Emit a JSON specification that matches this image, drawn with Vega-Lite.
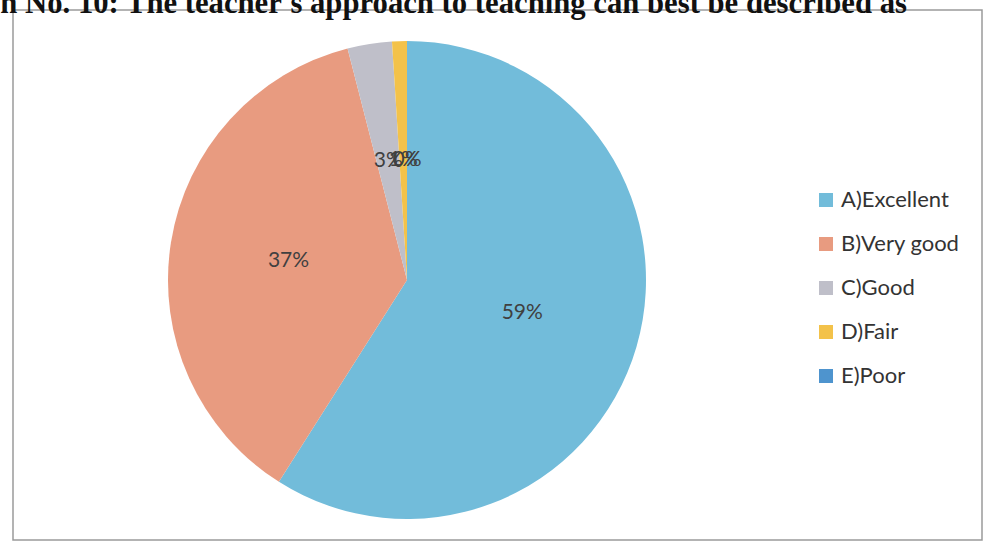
{
  "$schema": "https://vega.github.io/schema/vega-lite/v6.json",
  "autosize": {"type": "none"},
  "width": 969,
  "height": 530,
  "padding": {"left": 13, "top": 10, "right": 1, "bottom": 9},
  "background": "white",
  "config": {
    "view": {"stroke": null},
    "font": "Lato"
  },
  "title": {
    "text": "Question No. 10: The teacher's approach to teaching can best be described as",
    "font": "Liberation Serif",
    "fontSize": 30.7,
    "fontWeight": "bold",
    "color": "#111111",
    "anchor": "end",
    "frame": "group",
    "baseline": "alphabetic",
    "offset": 0,
    "dx": -75,
    "dy": 34
  },
  "layer": [
    {
      "data": {"values": [{"box": 1}]},
      "mark": {"type": "rect", "fill": null, "stroke": "#9a9a9a", "strokeWidth": 1.5},
      "encoding": {
        "x": {"value": 0},
        "x2": {"value": "width"},
        "y": {"value": 0},
        "y2": {"value": "height"}
      }
    },
    {
      "data": {"name": "slices"},
      "layer": [
        {
          "mark": {"type": "arc", "outerRadius": 239, "x": 394, "y": 270, "stroke": null},
          "encoding": {
            "theta": {"field": "share", "type": "quantitative", "stack": true},
            "order": {"field": "category", "sort": "ascending"},
            "color": {
              "field": "category",
              "type": "nominal",
              "scale": {
                "domain": ["A)Excellent", "B)Very good", "C)Good", "D)Fair", "E)Poor"],
                "range": ["#72BCDA", "#E89B80", "#BFBFC9", "#F3C24A", "#4E94CE"]
              },
              "legend": {
                "title": null,
                "orient": "none",
                "legendX": 802,
                "legendY": 179,
                "symbolType": "square",
                "symbolSize": 196,
                "symbolStrokeWidth": 0,
                "labelFontSize": 22,
                "labelFont": "Lato",
                "labelColor": "#333333",
                "labelOffset": 4,
                "rowPadding": 22,
                "labelLimit": 300
              }
            }
          }
        },
        {
          "mark": {"type": "text", "radius": 120, "x": 394, "y": 270, "fontSize": 21, "font": "Lato"},
          "encoding": {
            "theta": {"field": "share", "type": "quantitative", "stack": true},
            "order": {"field": "category", "sort": "ascending"},
            "detail": {"field": "category", "type": "nominal"},
            "text": {"field": "share", "type": "quantitative", "format": ".0%"},
            "color": {"value": "#404040"}
          }
        }
      ]
    }
  ],
  "datasets": {
    "slices": [
      {"category": "A)Excellent", "share": 0.59},
      {"category": "B)Very good", "share": 0.37},
      {"category": "C)Good", "share": 0.03},
      {"category": "D)Fair", "share": 0.01},
      {"category": "E)Poor", "share": 0.0}
    ]
  }
}
